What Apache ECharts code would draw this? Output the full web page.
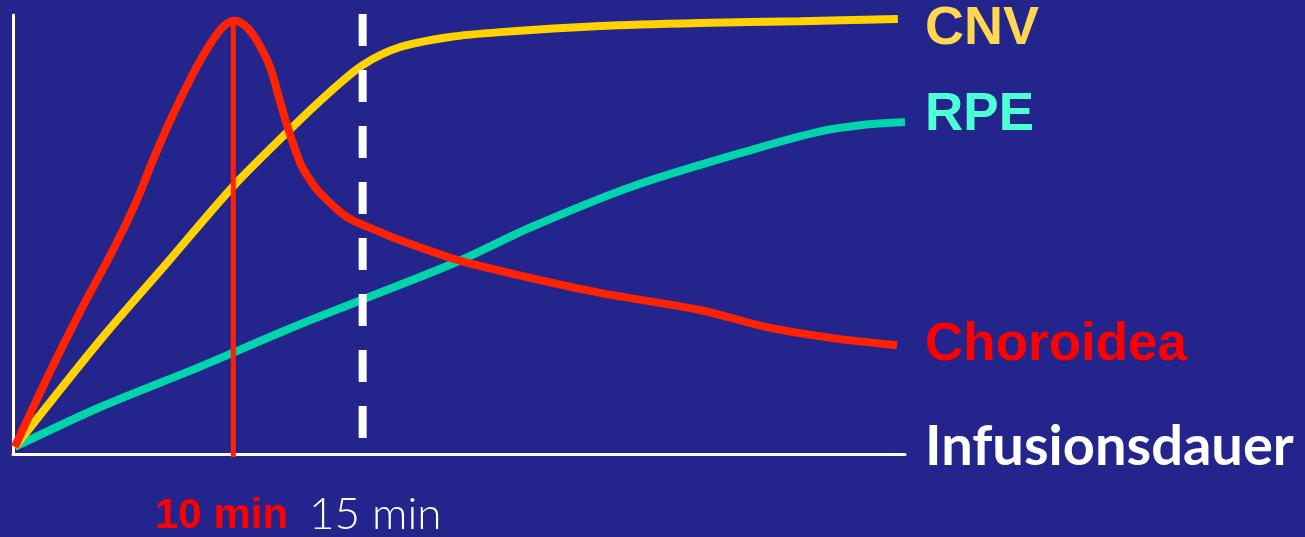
<!DOCTYPE html>
<html>
<head>
<meta charset="utf-8">
<script src="https://cdn.jsdelivr.net/npm/echarts@6/dist/echarts.min.js"></script>
<style>
html,body{margin:0;padding:0;background:#24258C;}
#chart{width:1305px;height:537px;}
</style>
</head>
<body>
<div id="chart"></div>
<script>
// Choroidea (red) — [x, y] in arbitrary units (x: infusion time 0..100, y: intensity 0..100)
const choroidea = [
  [0.2, 1.6], [4.1, 18.5], [7.8, 33.5], [11.4, 47.2], [13.9, 57.9], [15.7, 67.0],
  [17.3, 74.5], [18.7, 80.6], [20.6, 88.2], [22.4, 94.3], [23.7, 97.6], [24.8, 98.7],
  [26.0, 97.6], [27.3, 94.3], [28.8, 88.2], [29.9, 80.6], [30.7, 75.0], [32.2, 66.3],
  [33.3, 62.4], [34.4, 59.5], [37.4, 54.0], [41.1, 50.6], [43.4, 48.7], [49.8, 44.2],
  [58.0, 40.1], [65.8, 36.7], [77.0, 32.8], [84.5, 28.9], [91.9, 26.4], [99.1, 24.8]
];
// CNV (yellow)
const cnv = [
  [0.2, 1.6], [9.8, 26.0], [17.3, 43.6], [24.7, 61.0], [31.1, 74.0], [35.5, 82.4],
  [39.2, 88.6], [43.4, 92.7], [49.0, 95.0], [54.6, 96.1], [65.8, 97.5], [77.0, 98.2],
  [88.2, 98.6], [99.2, 99.1]
];
// RPE (teal)
const rpe = [
  [0.2, 1.6], [9.8, 10.7], [21.0, 19.9], [30.7, 28.3], [39.2, 35.2], [49.8, 43.8],
  [58.0, 51.6], [69.5, 61.0], [83.0, 69.4], [90.5, 73.5], [95.0, 74.9], [100, 75.6]
];
// time markers (x positions) and their vertical extents
const peakMarker = [[24.7, 98.0], [24.7, -0.7]];      // 10 min
const dashMarker = [[39.2, 100.2], [39.2, 3.2]];      // 15 min
const seriesNames = ['CNV', 'RPE', 'Choroidea'];
const axisName = 'Infusionsdauer';
const tickLabels = ['10 min', '15 min'];

const chart = echarts.init(document.getElementById('chart'), null, {renderer: 'canvas'});
const labelFont = '"Liberation Sans", Arial, sans-serif';
chart.setOption({
  backgroundColor: '#24258C',
  animation: false,
  grid: {left: 13, right: 400, top: 15, bottom: 83, containLabel: false},
  xAxis: {
    type: 'value', min: 0, max: 100,
    axisLine: {show: true, onZero: false, lineStyle: {color: '#FFFFFF', width: 3}},
    axisTick: {show: false}, axisLabel: {show: false}, splitLine: {show: false}
  },
  yAxis: {
    type: 'value', min: 0, max: 100,
    axisLine: {show: true, onZero: false, lineStyle: {color: '#FFFFFF', width: 3}},
    axisTick: {show: false}, axisLabel: {show: false}, splitLine: {show: false}
  },
  series: [
    {name: 'RPE', type: 'line', data: rpe, smooth: 0.3, showSymbol: false, clip: false,
     lineStyle: {color: '#00D4AA', width: 8}, z: 2},
    {name: 'CNV', type: 'line', data: cnv, smooth: 0.3, showSymbol: false, clip: false,
     lineStyle: {color: '#FFD200', width: 8}, z: 3},
    {name: 'Choroidea', type: 'line', data: choroidea, smooth: 0.3, showSymbol: false, clip: false,
     lineStyle: {color: '#FF2200', width: 8}, z: 4},
    {name: 'peak', type: 'line', data: peakMarker, showSymbol: false, clip: false,
     lineStyle: {color: '#FF2200', width: 5}, z: 5},
    {name: 'dash', type: 'line', data: dashMarker, showSymbol: false, clip: false,
     lineStyle: {color: '#FFFFFF', width: 8, type: [32, 24], cap: 'butt'}, z: 6}
  ],
  graphic: [
    {type: 'text', left: 925, top: 27 - 25, style: {text: seriesNames[0], fill: '#FFD84F', font: 'bold 54px ' + labelFont, verticalAlign: 'top'}},
    {type: 'text', left: 925, top: 113 - 24, style: {text: seriesNames[1], fill: '#4DFFD4', font: 'bold 53px ' + labelFont, verticalAlign: 'top'}},
    {type: 'text', left: 925, top: 343 - 24, style: {text: seriesNames[2], fill: '#FF0000', font: 'bold 53px ' + labelFont, verticalAlign: 'top'}},
    {type: 'text', left: 925, top: 445 - 26, style: {text: axisName, fill: '#FFFFFF', font: 'bold 56px Lato, sans-serif', verticalAlign: 'top'}},
    {type: 'text', left: 155, top: 514 - 19, style: {text: tickLabels[0], fill: '#FF0000', font: 'bold 42px ' + labelFont, verticalAlign: 'top'}},
    {type: 'text', left: 309, top: 514 - 21, style: {text: tickLabels[1], fill: '#FFFFFF', font: '300 44px Lato, sans-serif', verticalAlign: 'top'}}
  ]
});
</script>
</body>
</html>
